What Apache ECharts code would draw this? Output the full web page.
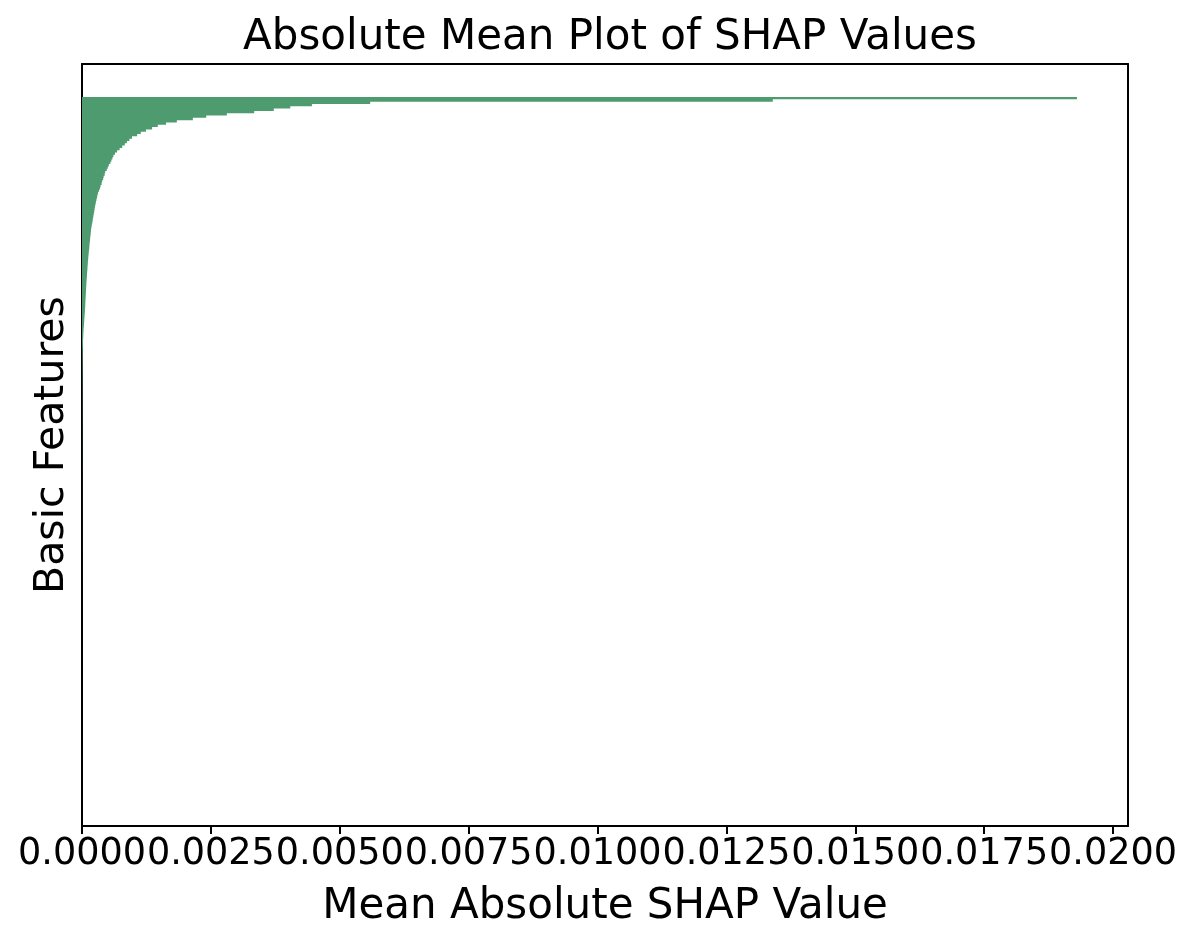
<!DOCTYPE html>
<html>
<head>
<meta charset="utf-8">
<title>Absolute Mean Plot of SHAP Values</title>
<script src="https://cdn.jsdelivr.net/npm/echarts@6/dist/echarts.min.js"></script>
<style>
  html, body { margin: 0; padding: 0; background: #fff; }
  #chart { width: 1196px; height: 947px; }
</style>
</head>
<body>
<div id="chart"></div>
<script>
// mean |SHAP| per feature, sorted high -> low
const topValues = [
  0.0193, 0.0134, 0.00559, 0.00446, 0.00404, 0.00372, 0.00334, 0.00281, 0.00241, 0.00215,
  0.00184, 0.00163, 0.00147, 0.00136, 0.00124, 0.00114, 0.00107, 0.00097, 0.00092, 0.00087,
  0.00083, 0.00078, 0.00073, 0.00068, 0.00064, 0.00061, 0.00059, 0.00057, 0.00055, 0.00052,
  0.00050, 0.00048, 0.00045, 0.00044, 0.00042, 0.00041, 0.00039, 0.00038, 0.00036, 0.00035,
  0.00033, 0.00031, 0.00030, 0.00029, 0.00028, 0.00027, 0.00026, 0.00025, 0.000245, 0.000237
]
const midValues = [
  0.000229, 0.000221, 0.000213, 0.000206, 0.000198, 0.000190, 0.000182, 0.000175, 0.000171, 0.000167,
  0.000161, 0.000157, 0.000153, 0.000147, 0.000144, 0.000140, 0.000134, 0.000130, 0.000126, 0.000122,
  0.000118, 0.000114, 0.000111, 0.000107, 0.000105, 0.000101, 0.000097, 0.000095, 0.000091, 0.000089,
  0.000085, 0.000083, 0.000080, 0.000078, 0.000076, 0.000073, 0.000071, 0.000068, 0.000066, 0.000064,
  0.000062, 0.000059, 0.000056, 0.000053, 0.000050, 0.000047, 0.000044, 0.000041, 0.000038, 0.000035,
  0.000031, 0.000028, 0.000026, 0.000024, 0.000022, 0.000020, 0.000018, 0.000017, 0.000016, 0.000014
]
const tailValues = [
  0.000013, 0.000013, 0.000012, 0.000012, 0.000011, 0.000011, 0.000010, 0.000010, 0.0000095, 0.000009,
  0.0000088, 0.0000085, 0.0000082, 0.000008, 0.0000077, 0.0000075, 0.0000072, 0.000007, 0.0000068, 0.0000066,
  0.0000064, 0.0000062, 0.000006, 0.0000058, 0.0000057, 0.0000055, 0.0000054, 0.0000052, 0.0000051, 0.000005,
  0.0000048, 0.0000047, 0.0000046, 0.0000045, 0.0000044, 0.0000043, 0.0000042, 0.0000041, 0.000004, 0.0000039,
  0.0000038, 0.0000037, 0.0000036, 0.0000035, 0.0000035, 0.0000034, 0.0000033, 0.0000032, 0.0000032, 0.0000031,
  0.000003, 0.000003, 0.0000029, 0.0000028, 0.0000028, 0.0000027, 0.0000026, 0.0000026, 0.0000025, 0.0000025,
  0.0000024, 0.0000024, 0.0000023, 0.0000023, 0.0000022, 0.0000022, 0.0000021, 0.0000021, 0.000002, 0.000002,
  0.0000019, 0.0000019, 0.0000018, 0.0000018, 0.0000018, 0.0000017, 0.0000017, 0.0000016, 0.0000016, 0.0000016,
  0.0000015, 0.0000015, 0.0000015, 0.0000014, 0.0000014, 0.0000014, 0.0000013, 0.0000013, 0.0000013, 0.0000012,
  0.0000012, 0.0000012, 0.0000011, 0.0000011, 0.0000011, 0.000001, 0.000001, 0.000001, 0.00000095, 0.0000009,
  0.00000088, 0.00000085, 0.00000082, 0.0000008, 0.00000078, 0.00000075, 0.00000072, 0.0000007, 0.00000068, 0.00000066,
  0.00000064, 0.00000062, 0.0000006, 0.00000058, 0.00000056, 0.00000054, 0.00000052, 0.0000005, 0.00000048, 0.00000046,
  0.00000044, 0.00000042, 0.0000004, 0.00000039, 0.00000038, 0.00000036, 0.00000035, 0.00000034, 0.00000032, 0.00000031,
  0.0000003, 0.00000029, 0.00000028, 0.00000027, 0.00000026, 0.00000025, 0.00000024, 0.00000023, 0.00000022, 0.00000021,
  0.0000002, 0.00000019, 0.00000018, 0.00000017, 0.00000016, 0.00000015, 0.00000014, 0.00000013, 0.00000012, 0.00000011,
  0.0000001, 9.5e-8, 9e-8, 8.5e-8, 8e-8, 7.5e-8, 7e-8, 6.5e-8, 6e-8, 5.5e-8,
  5e-8, 4.8e-8, 4.6e-8, 4.4e-8, 4.2e-8, 4e-8, 3.8e-8, 3.6e-8, 3.4e-8, 3.2e-8,
  3e-8, 2.8e-8, 2.6e-8, 2.4e-8, 2.2e-8, 2e-8, 1.8e-8, 1.6e-8, 1.4e-8, 1.2e-8,
  1e-8, 9e-9, 8e-9, 7e-9, 6e-9, 5e-9, 4e-9, 3e-9, 2e-9, 1e-9
]
const shapValues = topValues.concat(midValues, tailValues)
// feature names are not shown on the plot
const features = shapValues.map((v, i) => 'feature_' + i)
const xTicks = [0, 0.0025, 0.005, 0.0075, 0.01, 0.0125, 0.015, 0.0175, 0.02]
const xMax = 0.02029

const font = 'DejaVu Sans'
const black = '#000'
const barColor = '#4e9b6f'

let myChart = echarts.init(document.getElementById('chart'))
let option = {
  backgroundColor: '#fff',
  animation: false,
  title: {
    text: 'Absolute Mean Plot of SHAP Values',
    left: 605,
    textAlign: 'center',
    top: 12,
    textStyle: { color: black, fontFamily: font, fontSize: 42, fontWeight: 'normal' }
  },
  grid: [
    // bars (inset like matplotlib's 5% y margin)
    { left: 82, right: 68, top: 97, bottom: 156 },
    // frame + visible axes
    { left: 82, right: 68, top: 64, bottom: 121 }
  ],
  xAxis: [
    { gridIndex: 0, type: 'value', min: 0, max: xMax, show: false },
    {
      gridIndex: 1, type: 'value', min: 0, max: xMax, position: 'bottom',
      name: 'Mean Absolute SHAP Value',
      nameLocation: 'middle',
      nameGap: 60,
      nameTextStyle: { color: black, fontFamily: font, fontSize: 42 },
      axisLine: { show: true, onZero: false, lineStyle: { color: black, width: 2 } },
      axisTick: { show: true, length: 8, customValues: xTicks, lineStyle: { color: black, width: 2 } },
      axisLabel: {
        customValues: xTicks,
        hideOverlap: false,
        margin: 10,
        color: black, fontFamily: font, fontSize: 36.6,
        formatter: v => v.toFixed(4)
      },
      splitLine: { show: false }
    },
    {
      gridIndex: 1, type: 'value', min: 0, max: xMax, position: 'top',
      axisLine: { show: true, onZero: false, lineStyle: { color: black, width: 2 } },
      axisTick: { show: false }, axisLabel: { show: false }, splitLine: { show: false }
    }
  ],
  yAxis: [
    { gridIndex: 0, type: 'category', data: features, inverse: true, show: false },
    {
      gridIndex: 1, type: 'value', min: 0, max: 1, position: 'left',
      name: 'Basic Features',
      nameLocation: 'middle',
      nameRotate: 90,
      nameGap: 9,
      nameTextStyle: { color: black, fontFamily: font, fontSize: 41 },
      axisLine: { show: true, onZero: false, lineStyle: { color: black, width: 2 } },
      axisTick: { show: false }, axisLabel: { show: false }, splitLine: { show: false }
    },
    {
      gridIndex: 1, type: 'value', min: 0, max: 1, position: 'right',
      axisLine: { show: true, onZero: false, lineStyle: { color: black, width: 2 } },
      axisTick: { show: false }, axisLabel: { show: false }, splitLine: { show: false }
    }
  ],
  series: [
    {
      name: 'mean |SHAP|',
      type: 'bar',
      xAxisIndex: 0,
      yAxisIndex: 0,
      data: shapValues,
      barCategoryGap: '0%',
      // large mode draws all bars as one path, so there are no seams between them
      large: true,
      largeThreshold: 100,
      itemStyle: { color: barColor }
    }
  ]
}
myChart.setOption(option)
</script>
</body>
</html>
